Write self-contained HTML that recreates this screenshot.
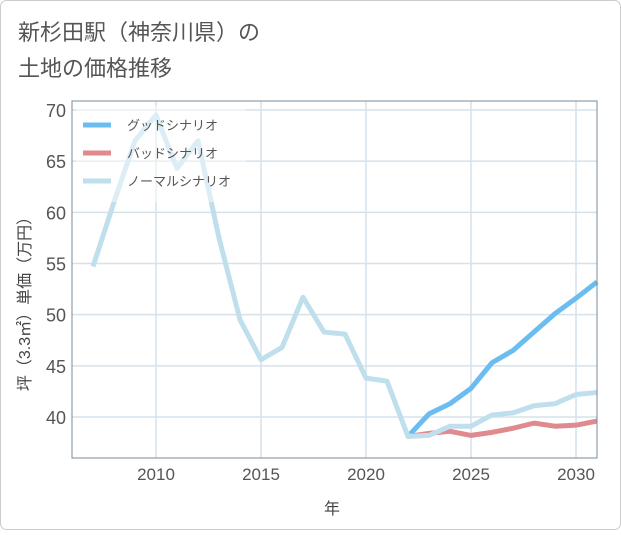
<!DOCTYPE html>
<html><head><meta charset="utf-8"><style>
body{margin:0;background:#fff;}
#wrap{position:relative;width:621px;height:530px;}
svg text{font-family:"Liberation Sans","Noto Sans CJK JP",sans-serif;}
</style></head><body>
<div id="wrap">
<svg id="chart" width="621" height="530">
<rect x="0.5" y="0.5" width="620" height="529" rx="6" fill="#fff" stroke="#ccc"/>
<text x="18" y="40" font-size="22" fill="#555">新杉田駅（神奈川県）の</text>
<text x="18" y="76" font-size="22" fill="#555">土地の価格推移</text>
<g id="grid"></g>
<g id="series"></g>
<g id="legend"></g>
<rect x="72" y="101" width="525" height="357" fill="none" stroke="#7a8a99" stroke-width="1"/>
<text x="332" y="514" font-size="16" fill="#444" text-anchor="middle">年</text>
<text transform="translate(30,300) rotate(-90)" font-size="16" fill="#444" text-anchor="middle">坪（3.3㎡）単価（万円）</text>
</svg>
</div>
<script>
const years=[2007,2008,2009,2010,2011,2012,2013,2014,2015,2016,2017,2018,2019,2020,2021,2022,2023,2024,2025,2026,2027,2028,2029,2030,2031];
const normal=[54.7,61,67,69.5,64.3,67,57.5,49.5,45.6,46.8,51.7,48.3,48.1,43.8,43.5,38.1,38.2,39.1,39.1,40.2,40.4,41.1,41.3,42.2,42.4];
const futureYears=[2022,2023,2024,2025,2026,2027,2028,2029,2030,2031];
const good=[38.1,40.3,41.3,42.8,45.3,46.5,48.3,50.1,51.6,53.2];
const bad=[38.1,38.4,38.6,38.2,38.5,38.9,39.4,39.1,39.2,39.6];
const xTicks=[2010,2015,2020,2025,2030];
const yTicks=[40,45,50,55,60,65,70];
const seriesNames=["グッドシナリオ","バッドシナリオ","ノーマルシナリオ"];
const seriesColors=["#6bbcf0","#e0898f","#c0dfed"];
const NS="http://www.w3.org/2000/svg";
const X=y=>156+(y-2010)*21;
const Y=v=>110+(70-v)*10.233;
function mk(t,a,p){const e=document.createElementNS(NS,t);for(const k in a)e.setAttribute(k,a[k]);p.appendChild(e);return e;}
const grid=document.getElementById('grid');
xTicks.forEach(t=>{
 const l=mk('line',{x1:X(t),x2:X(t),y1:101,y2:458,stroke:'#d5e2ec','stroke-width':1.5},grid);
 
 
 const tx=mk('text',{x:X(t),y:480,'font-size':17,fill:'#555','text-anchor':'middle'},grid);tx.textContent=t;
 
 
});
yTicks.forEach(t=>{
 const l=mk('line',{x1:72,x2:597,y1:Y(t),y2:Y(t),stroke:'#d5e2ec','stroke-width':1.5},grid);
 
 
 const tx=mk('text',{x:66,y:Y(t)+7,'font-size':18,fill:'#555','text-anchor':'end'},grid);tx.textContent=t;
 
 
});
const sg=document.getElementById('series');
function line(xs,vs,c,name){
 const p=mk('polyline',{points:xs.map((x,i)=>X(x)+','+Y(vs[i])).join(' '),fill:'none',stroke:c,'stroke-width':5,'stroke-linejoin':'round'},sg);
 
 
}
line(futureYears,bad,seriesColors[1],'bad-scenario-line');
line(futureYears,good,seriesColors[0],'good-scenario-line');
line(years,normal,seriesColors[2],'normal-scenario-line');
const lg=document.getElementById('legend');
const bg=mk('rect',{x:76,y:106,width:170,height:96,fill:'#fff','fill-opacity':0.45},lg);


seriesNames.forEach((n,i)=>{
 const yy=125+i*28;
 const l=mk('line',{x1:83,x2:111,y1:yy,y2:yy,stroke:seriesColors[i],'stroke-width':5},lg);
 
 
 const t=mk('text',{x:127,y:yy+5,'font-size':13,fill:'#555'},lg);t.textContent=n;
 
 
});
</script>
</body></html>
